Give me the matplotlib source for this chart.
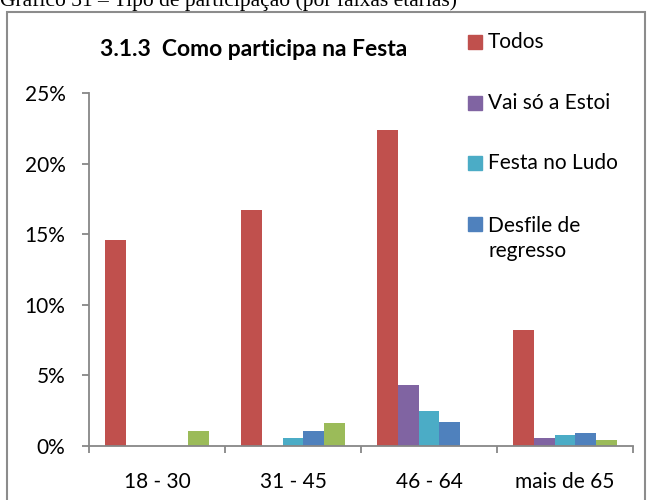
import matplotlib.pyplot as plt
import matplotlib.patches as mpatches
from matplotlib.ticker import FuncFormatter, FixedLocator
import numpy as np

plt.rcParams['font.family'] = ['Lato', 'DejaVu Sans']

# data (percent)
categories = ['18 - 30', '31 - 45', '46 - 64', 'mais de 65']
todos = [14.6, 16.7, 22.4, 8.2]
vai_so_estoi = [0, 0, 4.3, 0.56]
festa_ludo = [0, 0.56, 2.45, 0.8]
desfile = [0, 1.08, 1.69, 0.94]
outro = [1.08, 1.65, 0, 0.42]   # fifth series, its legend entry is cut off in the original

series = [todos, vai_so_estoi, festa_ludo, desfile, outro]
names = ['Todos', 'Vai só a Estoi', 'Festa no Ludo', 'Desfile de\nregresso', 'Outro']
colors = ['#C0504D', '#8064A2', '#4BACC6', '#4F81BD', '#9BBB59']
in_legend = [True, True, True, True, False]

W, H = 651, 500
fig = plt.figure(figsize=(W / 100, H / 100), dpi=100)
ax = fig.add_axes([89 / W, 1 - 446 / H, (633 - 89) / W, (446 - 93) / H])

x = np.arange(len(categories))
bw = 0.154
for i, (vals, c) in enumerate(zip(series, colors)):
    ax.bar(x + (i - 2) * bw, np.array(vals) / 100, width=bw, color=c, linewidth=0)

ax.set_xlim(-0.5, len(categories) - 0.5)
ax.set_ylim(0, 0.25)
ax.set_yticks(np.arange(0, 0.251, 0.05))
ax.yaxis.set_major_formatter(FuncFormatter(lambda v, p: f'{v * 100:.0f}%'))
ax.set_xticks(x)
ax.set_xticklabels(categories)
ax.xaxis.set_minor_locator(FixedLocator(np.arange(-0.5, len(categories), 1.0)))

grey = '#878787'
for s in ['top', 'right']:
    ax.spines[s].set_visible(False)
for s in ['left', 'bottom']:
    ax.spines[s].set_color(grey)
    ax.spines[s].set_linewidth(1.3)
ax.tick_params(axis='y', length=5, width=1.3, color=grey, labelsize=15, pad=12)
ax.tick_params(axis='x', which='major', length=0, labelsize=15, pad=18.5)
ax.tick_params(axis='x', which='minor', length=5, width=1.3, color=grey)

# title inside the chart area
fig.text(100 / W, 1 - 49 / H, '3.1.3  Como participa na Festa', fontsize=16.5,
         fontweight='bold', va='center', ha='left')

# legend drawn by hand, like Excel's
leg_y = [41.7, 102.7, 163, 224]
k = 0
for name, c, show in zip(names, colors, in_legend):
    if not show:
        continue
    yc = leg_y[k]
    fig.patches.append(mpatches.Rectangle((468 / W, 1 - (yc + 7) / H), 14 / W, 14 / H,
                                          transform=fig.transFigure, color=c))
    nl = name.count('\n')
    fig.text(488 / W, 1 - (yc + nl * 14.5) / H, name, fontsize=15, va='center',
             ha='left', linespacing=1.35)
    k += 1

# border of the chart area and the cut caption above it
fig.patches.append(mpatches.Rectangle((7 / W, -0.05), (645 - 7) / W, 1.05 - 12 / H,
                                      transform=fig.transFigure, fill=False,
                                      edgecolor='#8c8c8c', linewidth=1.5))
fig.text(0.0, 1 - 6 / H, 'Gráfico 31 – Tipo de participação (por faixas etárias)',
         family='Liberation Serif', fontsize=15.5, va='baseline', ha='left')

fig.savefig('out.png', dpi=100)
